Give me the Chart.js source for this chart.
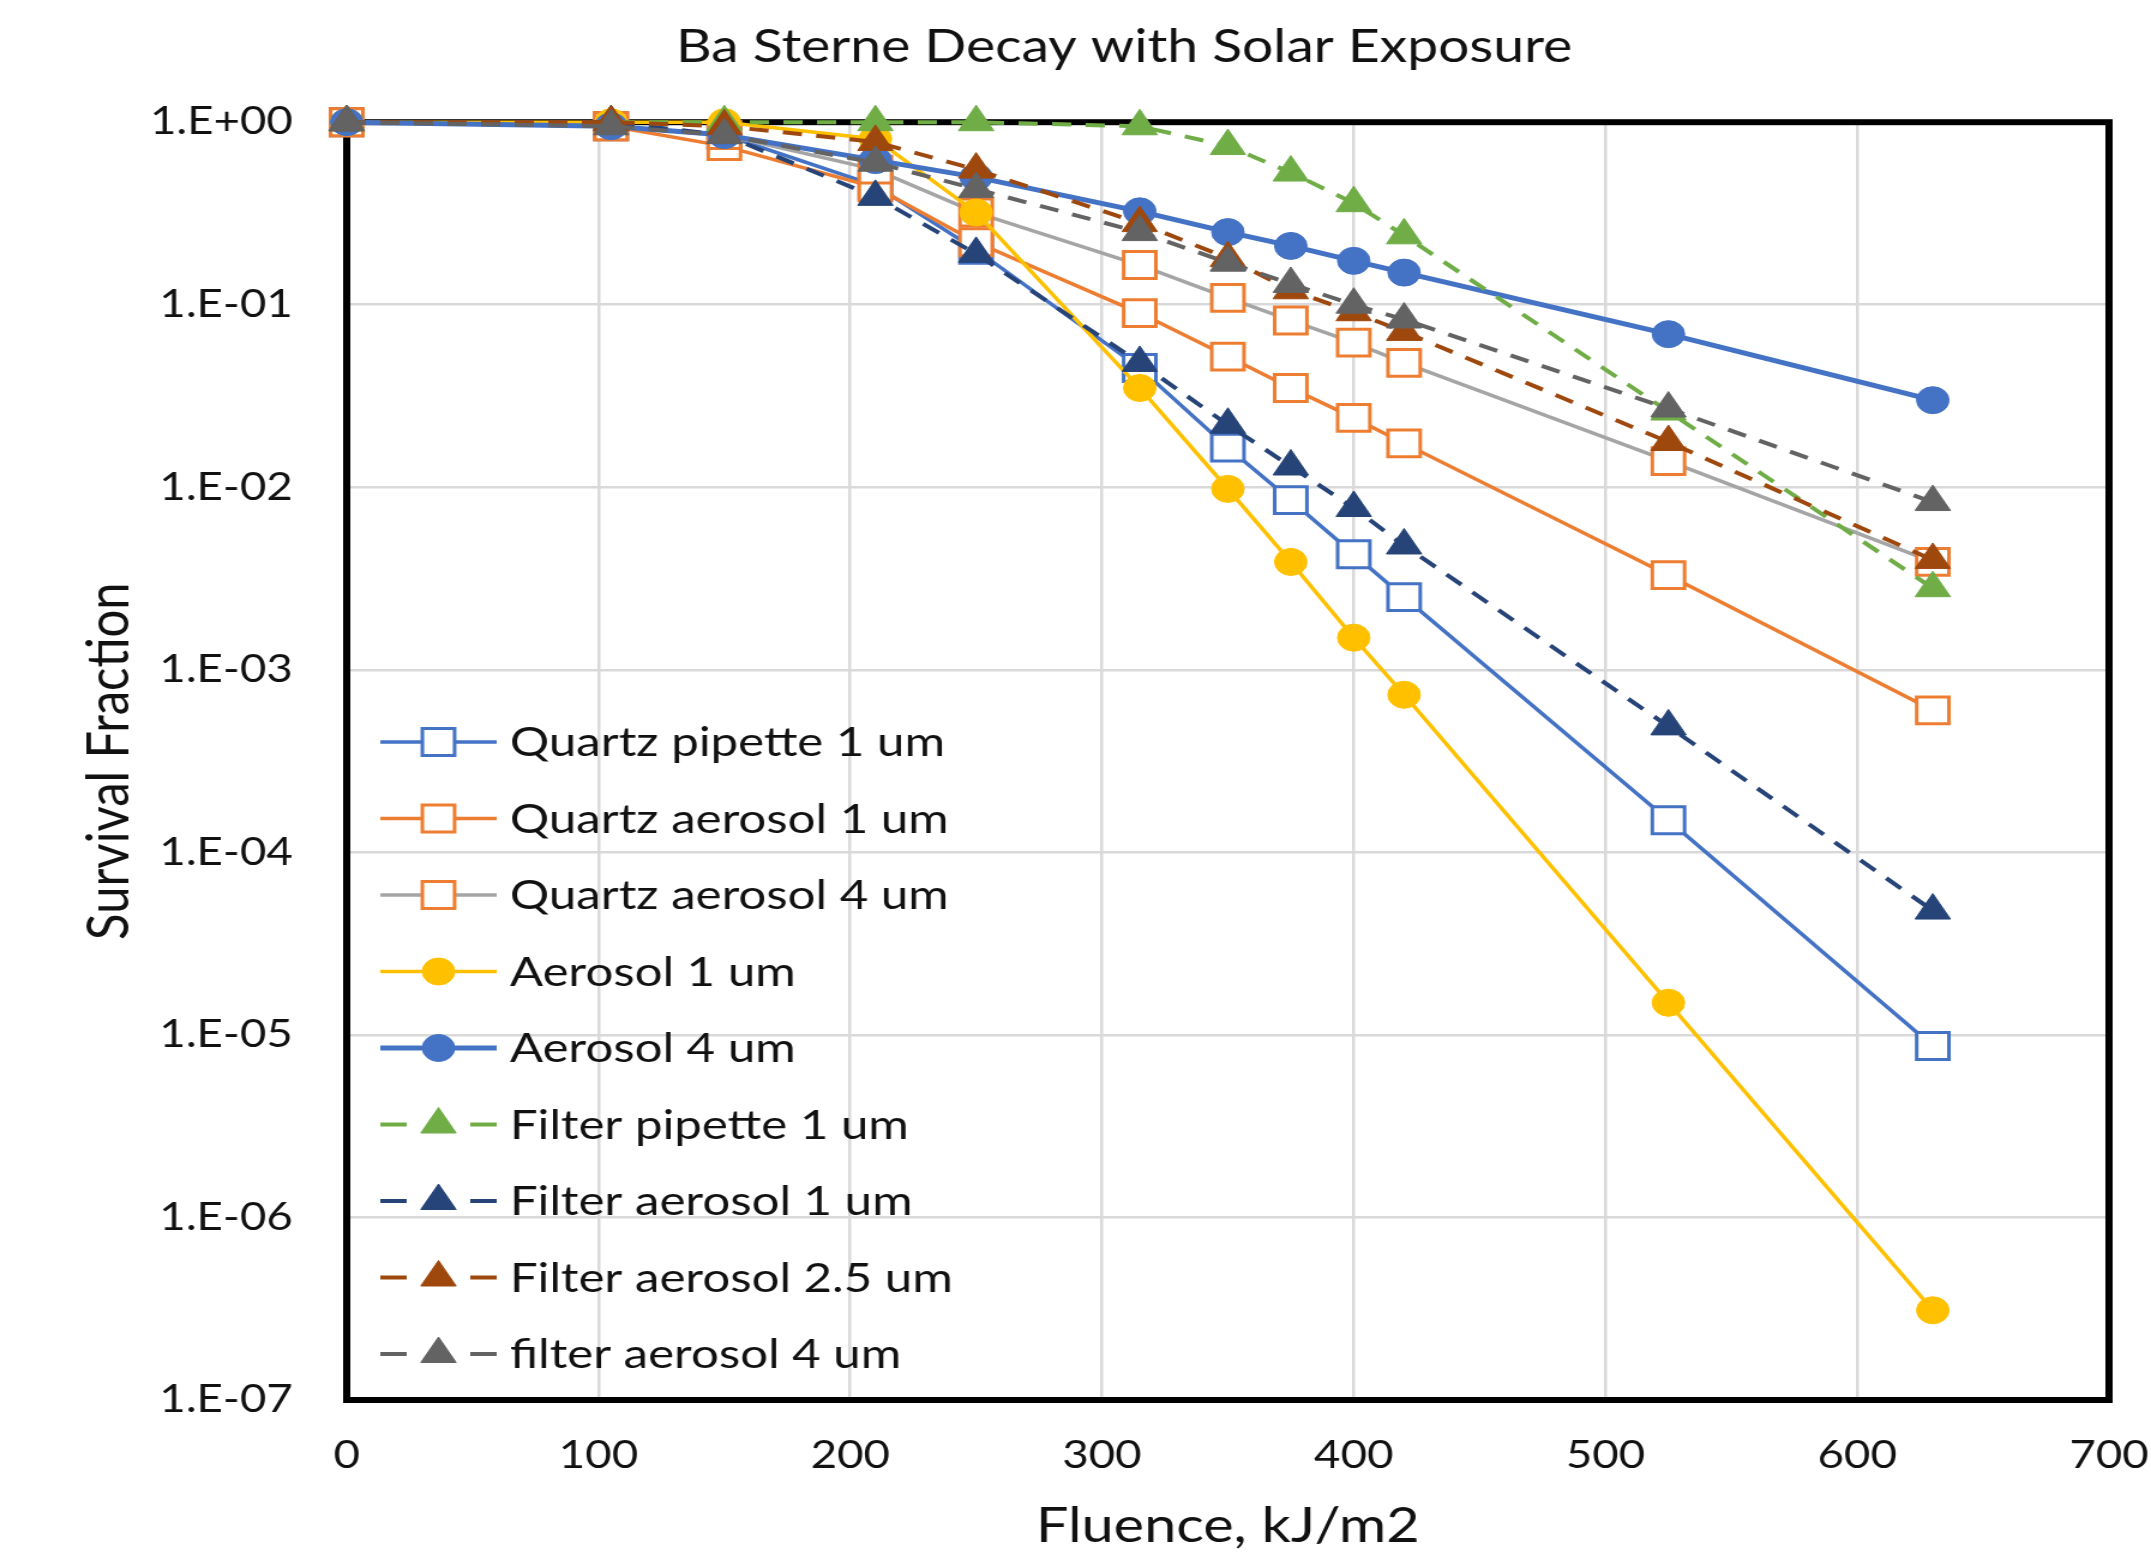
<!DOCTYPE html>
<html>
<head>
<meta charset="utf-8">
<script src="https://cdn.jsdelivr.net/npm/chart.js@4.4.1/dist/chart.umd.min.js"></script>
<style>
  html, body { margin: 0; padding: 0; background: #fff; overflow: hidden; }
  /* the source picture is stretched sideways, so the chart is too */
  #wrap { width: 1793px; height: 1558px; transform: scaleX(1.19967); transform-origin: 0 0; }
</style>
</head>
<body>
<div id="wrap"><canvas id="decayChart" width="1793" height="1558"></canvas></div>
<script>
// ── Ba Sterne decay – data ──
const fluence = [0, 105, 150, 210, 250, 315, 350, 375, 400, 420, 525, 630];

const quartzPipette1  = [1, 0.95, 0.85, 0.45, 0.2, 0.045, 0.0165, 0.0085, 0.0043, 0.0025, 1.5e-4, 8.7e-6];
const quartzAerosol1  = [1, 0.95, 0.74, 0.44, 0.22, 0.09, 0.052, 0.035, 0.024, 0.0174, 0.0033, 6.0e-4];
const quartzAerosol4  = [1, 0.95, 0.85, 0.55, 0.32, 0.165, 0.109, 0.082, 0.062, 0.048, 0.0139, 0.0039];
const aerosol1        = [1, 1, 1, 0.81, 0.32, 0.035, 0.0098, 0.0039, 0.0015, 7.3e-4, 1.5e-5, 3.1e-7];
const aerosol4        = [1, 0.95, 0.85, 0.62, 0.5, 0.325, 0.25, 0.21, 0.174, 0.15, 0.069, 0.030];
const filterPipette1  = [1, 1, 1, 1, 1, 0.95, 0.74, 0.53, 0.36, 0.24, 0.026, 0.0028];
const filterAerosol1  = [1, 1, 0.85, 0.39, 0.19, 0.048, 0.022, 0.013, 0.0077, 0.0048, 4.9e-4, 4.8e-5];
const filterAerosol25 = [1, 1, 0.95, 0.78, 0.55, 0.28, 0.18, 0.12, 0.091, 0.071, 0.0177, 0.004];
const filterAerosol4  = [1, 0.95, 0.85, 0.6, 0.43, 0.25, 0.17, 0.13, 0.10, 0.083, 0.027, 0.0083];

const seriesNames = ['Quartz pipette 1 um', 'Quartz aerosol 1 um', 'Quartz aerosol 4 um', 'Aerosol 1 um', 'Aerosol 4 um',
  'Filter pipette 1 um', 'Filter aerosol 1 um', 'Filter aerosol 2.5 um', 'filter aerosol 4 um'];
const seriesValues = [quartzPipette1, quartzAerosol1, quartzAerosol4, aerosol1, aerosol4,
  filterPipette1, filterAerosol1, filterAerosol25, filterAerosol4];

const xTicks = [0, 100, 200, 300, 400, 500, 600, 700];
const yTicks = [1, 1e-1, 1e-2, 1e-3, 1e-4, 1e-5, 1e-6, 1e-7];
const yTickLabels = ['1.E+00', '1.E-01', '1.E-02', '1.E-03', '1.E-04', '1.E-05', '1.E-06', '1.E-07'];

// ── styles ──
const DASH = [16, 12];
const styles = [
  { line: '#4472C4', width: 3.5, dash: [], point: 'rect', r: 19, fill: '#fff', stroke: '#4472C4', bw: 3 },
  { line: '#ED7D31', width: 3.5, dash: [], point: 'rect', r: 19, fill: '#fff', stroke: '#ED7D31', bw: 3 },
  { line: '#A5A5A5', width: 3.5, dash: [], point: 'rect', r: 19, fill: '#fff', stroke: '#ED7D31', bw: 3 },
  { line: '#FFC000', width: 3.5, dash: [], point: 'circle', r: 13.5, fill: '#FFC000', stroke: '#FFC000', bw: 1 },
  { line: '#4472C4', width: 5, dash: [], point: 'circle', r: 13.5, fill: '#4472C4', stroke: '#4472C4', bw: 1 },
  { line: '#70AD47', width: 4, dash: DASH, point: 'triangle', r: 17, fill: '#70AD47', stroke: '#70AD47', bw: 1 },
  { line: '#264478', width: 4, dash: DASH, point: 'triangle', r: 17, fill: '#264478', stroke: '#264478', bw: 1 },
  { line: '#9E480E', width: 4, dash: DASH, point: 'triangle', r: 17, fill: '#9E480E', stroke: '#9E480E', bw: 1 },
  { line: '#636363', width: 4, dash: DASH, point: 'triangle', r: 17, fill: '#636363', stroke: '#636363', bw: 1 }
];

const FONT = 'Lato';
const TEXT = '#111';

function drawMarker(ctx, s, x, y) {
  ctx.fillStyle = s.fill; ctx.strokeStyle = s.stroke; ctx.lineWidth = s.bw; ctx.setLineDash([]);
  ctx.beginPath();
  if (s.point === 'rect') {
    const h = s.r * Math.SQRT1_2;
    ctx.rect(x - h, y - h, 2 * h, 2 * h);
  } else if (s.point === 'circle') {
    ctx.arc(x, y, s.r, 0, Math.PI * 2);
  } else {
    ctx.moveTo(x, y - s.r);
    ctx.lineTo(x + 0.866 * s.r, y + 0.5 * s.r);
    ctx.lineTo(x - 0.866 * s.r, y + 0.5 * s.r);
    ctx.closePath();
  }
  ctx.fill(); ctx.stroke();
}

// Excel-style legend sitting inside the plot, bottom left
const insideLegend = {
  id: 'insideLegend',
  afterDraw(chart) {
    const { ctx, chartArea: a } = chart;
    const rowH = 76.5, lineW = 97;
    const x0 = a.left + 28;
    const y0 = a.bottom - 46 - (seriesNames.length - 1) * rowH;
    ctx.save();
    chart.data.datasets.forEach((ds, i) => {
      const s = styles[i];
      const y = y0 + i * rowH;
      ctx.strokeStyle = s.line; ctx.lineWidth = s.width; ctx.setLineDash([]);
      ctx.beginPath();
      if (s.dash.length) {
        ctx.moveTo(x0, y); ctx.lineTo(x0 + 22, y);
        ctx.moveTo(x0 + lineW - 22, y); ctx.lineTo(x0 + lineW, y);
      } else {
        ctx.moveTo(x0, y); ctx.lineTo(x0 + lineW, y);
      }
      ctx.stroke();
      drawMarker(ctx, s, x0 + lineW / 2, y);
      ctx.fillStyle = TEXT;
      ctx.font = '41px ' + FONT;
      ctx.textBaseline = 'middle';
      ctx.fillText(ds.label, x0 + 108, y + 1);
    });
    ctx.restore();
  }
};

// thick black frame round the plot area, under the series
const plotFrame = {
  id: 'plotFrame',
  beforeDatasetsDraw(chart) {
    const { ctx, chartArea: a } = chart;
    ctx.save();
    ctx.strokeStyle = '#000'; ctx.lineWidth = 6;
    ctx.strokeRect(a.left, a.top, a.width, a.height);
    ctx.restore();
  }
};

const datasets = seriesNames.map((name, i) => {
  const s = styles[i];
  return {
    label: name,
    data: fluence.map((x, k) => ({ x: x, y: seriesValues[i][k] })),
    borderColor: s.line, borderWidth: s.width, borderDash: s.dash,
    pointStyle: s.point, pointRadius: s.r, pointHoverRadius: s.r,
    pointBackgroundColor: s.fill, pointBorderColor: s.stroke, pointBorderWidth: s.bw,
    fill: false, tension: 0, clip: false,
    order: seriesNames.length - i
  };
});

Chart.defaults.font.family = FONT;
Chart.defaults.color = TEXT;

new Chart(document.getElementById('decayChart').getContext('2d'), {
  type: 'line',
  data: { datasets: datasets },
  plugins: [plotFrame, insideLegend],
  options: {
    responsive: false, animation: false, devicePixelRatio: 1,
    layout: { padding: { left: 116, right: 35, top: 0, bottom: 0 } },
    plugins: {
      legend: { display: false },
      tooltip: { enabled: false },
      title: { display: true, text: 'Ba Sterne Decay with Solar Exposure', color: TEXT,
        font: { size: 46, weight: 'normal' }, padding: { top: 20, bottom: 47 } }
    },
    scales: {
      x: {
        type: 'linear', min: 0, max: 700,
        afterBuildTicks: s => { s.ticks = xTicks.map(v => ({ value: v })); },
        afterFit: s => { s.height = 158; s.paddingLeft = 0; s.paddingRight = 0; },
        grid: { color: '#d9d9d9', lineWidth: 2.5, drawTicks: false },
        border: { display: false },
        ticks: { font: { size: 38 }, color: TEXT, padding: 33, maxRotation: 0 },
        title: { display: true, text: 'Fluence, kJ/m2', color: TEXT, font: { size: 48 }, padding: { top: 0, bottom: 3 } }
      },
      y: {
        type: 'logarithmic', min: 1e-7, max: 1,
        afterBuildTicks: s => { s.ticks = yTicks.map(v => ({ value: v })); },
        afterFit: s => { s.width = 173; s.paddingTop = 0; s.paddingBottom = 0; },
        grid: { color: '#d9d9d9', lineWidth: 2.5, drawTicks: false },
        border: { display: false },
        ticks: { font: { size: 38 }, color: TEXT, padding: 45, callback: (v, i) => yTickLabels[i] },
        title: { display: true, text: 'Survival Fraction', color: TEXT, font: { size: 49 }, padding: { top: -54, bottom: 0 } }
      }
    }
  }
});
</script>
</body>
</html>
